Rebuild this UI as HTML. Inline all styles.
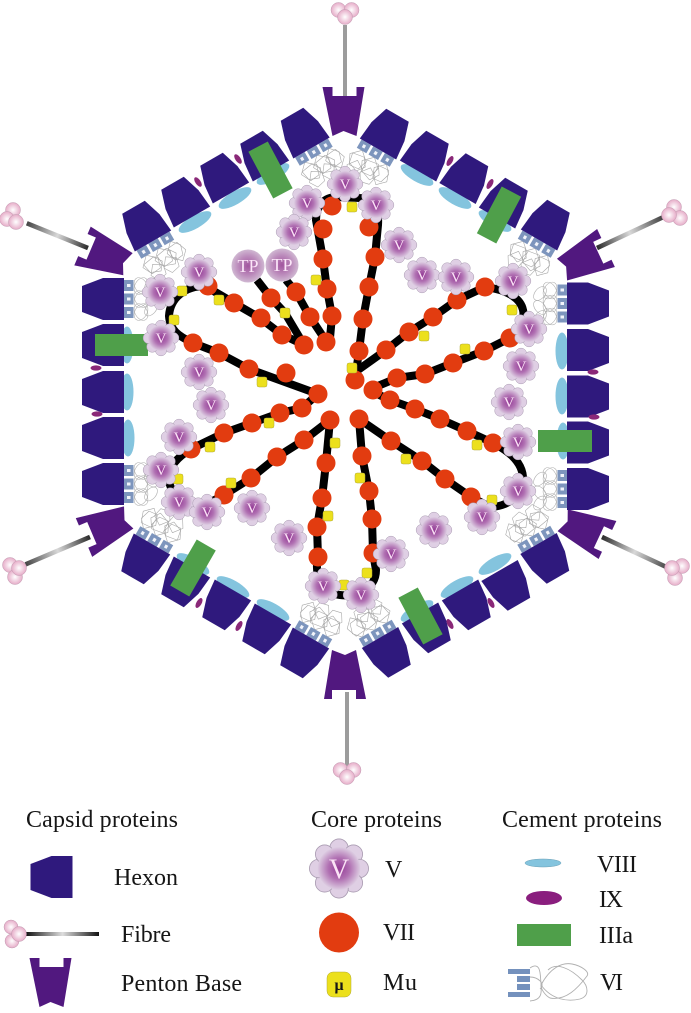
<!DOCTYPE html>
<html><head><meta charset="utf-8"><style>
html,body{margin:0;padding:0;background:#fff}
svg{display:block;filter:blur(.35px)}
text{font-family:"Liberation Serif",serif;fill:#161616}
.v{fill:#fbe3f6;font-size:15px;text-anchor:middle}
.r{fill:#e23c10}
.y{fill:#ece01c;stroke:#b0a83a;stroke-width:.5}
.l{fill:none;stroke:#000;stroke-width:8;stroke-linejoin:round}
</style></head><body>
<svg width="691" height="1013" viewBox="0 0 691 1013" xmlns="http://www.w3.org/2000/svg">
<defs>
<radialGradient id="fg"><stop offset="0" stop-color="#943c96"/><stop offset=".5" stop-color="#b070b2"/><stop offset="1" stop-color="#ddcde2"/></radialGradient>
<radialGradient id="tg"><stop offset="0" stop-color="#a2559f"/><stop offset=".6" stop-color="#bc8cbc"/><stop offset="1" stop-color="#d0b8d2"/></radialGradient>
<radialGradient id="pg"><stop offset="0" stop-color="#fff"/><stop offset="1" stop-color="#e6acc8"/></radialGradient>
<linearGradient id="sg" x1="0" y1="0" x2="0" y2="1"><stop offset="0" stop-color="#2a2a2a"/><stop offset=".5" stop-color="#d8d8d8"/><stop offset="1" stop-color="#444"/></linearGradient>
<linearGradient id="sh" x1="0" y1="0" x2="1" y2="0"><stop offset="0" stop-color="#111"/><stop offset=".5" stop-color="#ddd"/><stop offset="1" stop-color="#111"/></linearGradient>
<polygon id="hx" points="-21,0 21,0 21,-21 13,-42 -13,-42 -21,-21" fill="#2f197d"/>
<polygon id="hd" points="-21,0 21,0 19,-20 13,-39 -13,-39 -19,-20" fill="#2f197d"/>
<polygon id="pn" points="-21,0 -11,0 -11,9 13,9 13,0 21,0 13,49 0,44 -11,49" fill="#51187f"/>
<ellipse id="e8" rx="18.5" ry="6.5" fill="#84c4de"/>
<ellipse id="e9" rx="5.5" ry="2.6" fill="#8a2878"/>
<g id="tm"><circle cx="-6.5" cy="-3" r="7.5" fill="url(#pg)" stroke="#c09ab0" stroke-width=".5"/><circle cx="6.5" cy="-3" r="7.5" fill="url(#pg)" stroke="#c09ab0" stroke-width=".5"/><circle cx="0" cy="4" r="7.5" fill="url(#pg)" stroke="#c09ab0" stroke-width=".5"/></g>
<g id="sq">
<g fill="#7d95bd"><rect x="-19" y="0" width="11" height="9.5"/><rect x="-5.5" y="0" width="11" height="9.5"/><rect x="8" y="0" width="11" height="9.5"/></g>
<g fill="#f2f4fa"><rect x="-15" y="3" width="3" height="3.5"/><rect x="-1.5" y="3" width="3" height="3.5"/><rect x="12" y="3" width="3" height="3.5"/></g>
</g>
<g id="vi">
<g fill="none" stroke="#b0b0b0" stroke-width=".6">
<ellipse cx="-13" cy="17" rx="9" ry="6" transform="rotate(30 -13 17)"/><ellipse cx="-13" cy="17" rx="9" ry="6" transform="rotate(-30 -13 17)"/>
<ellipse cx="0" cy="17" rx="9" ry="6" transform="rotate(30 0 17)"/><ellipse cx="0" cy="17" rx="9" ry="6" transform="rotate(-30 0 17)"/>
<ellipse cx="13" cy="17" rx="9" ry="6" transform="rotate(30 13 17)"/><ellipse cx="13" cy="17" rx="9" ry="6" transform="rotate(-30 13 17)"/>
<ellipse cx="-10" cy="27" rx="8" ry="5" transform="rotate(40 -10 27)"/><ellipse cx="4" cy="27" rx="8" ry="5" transform="rotate(-40 4 27)"/><ellipse cx="14" cy="27" rx="8" ry="5" transform="rotate(40 14 27)"/>
</g>
<use href="#sq"/>
</g>
<g id="vd">
<g fill="none" stroke="#a8a8a8" stroke-width=".6" stroke-linejoin="round">
<polygon points="-13,9 -4,17 -7,27 -17,28 -22,18"/><polygon points="1,9 10,17 7,27 -3,28 -8,18"/><polygon points="15,9 22,17 19,27 10,28 6,18"/>
<polygon points="-12,20 -3,26 -5,35 -14,37 -19,29"/><polygon points="3,20 12,26 10,35 1,37 -4,29"/><polygon points="-20,16 -8,14 -2,22 -8,30 -18,26"/><polygon points="-4,15 8,13 14,22 8,31 -3,27"/><polygon points="9,14 20,13 24,24 16,32 9,25"/>
</g>
<use href="#sq"/>
</g>
<g id="fl">
<g fill="#dfcfe4" stroke="#a99bb1" stroke-width=".5">
<circle cx="0" cy="-12.3" r="5.6"/><circle cx="8.7" cy="-8.7" r="5.6"/><circle cx="12.3" cy="0" r="5.6"/><circle cx="8.7" cy="8.7" r="5.6"/><circle cx="0" cy="12.3" r="5.6"/><circle cx="-8.7" cy="8.7" r="5.6"/><circle cx="-12.3" cy="0" r="5.6"/><circle cx="-8.7" cy="-8.7" r="5.6"/>
</g>
<circle r="13" fill="url(#fg)"/>
</g>
</defs>

<!-- stems -->
<rect x="343" y="25" width="4" height="72" fill="#9c9c9c"/>
<rect x="345" y="692" width="4" height="75" fill="#9c9c9c"/>
<rect x="-2.3" y="0" width="4.6" height="66" fill="url(#sg)" transform="translate(88,248) rotate(112)"/>
<rect x="-2.3" y="0" width="4.6" height="70" fill="url(#sg)" transform="translate(90,537) rotate(67)"/>
<rect x="-2.3" y="0" width="4.6" height="72" fill="url(#sg)" transform="translate(597,248) rotate(-115)"/>
<rect x="-2.3" y="0" width="4.6" height="72" fill="url(#sg)" transform="translate(602,537) rotate(-65)"/>
<use href="#tm" x="345" y="13"/>
<use href="#tm" x="347" y="773"/>
<g fill="url(#pg)" stroke="#c09ab0" stroke-width=".5">
<circle cx="13" cy="210" r="7.5"/><circle cx="7" cy="219" r="7.5"/><circle cx="16" cy="222" r="7.5"/>
<circle cx="10" cy="565" r="7.5"/><circle cx="15" cy="577" r="7.5"/><circle cx="19" cy="568" r="7.5"/>
<circle cx="674" cy="207" r="7.5"/><circle cx="680" cy="218" r="7.5"/><circle cx="669" cy="215" r="7.5"/>
<circle cx="682" cy="566" r="7.5"/><circle cx="675" cy="578" r="7.5"/><circle cx="672" cy="568" r="7.5"/>
</g>

<!-- pentons -->
<use href="#pn" transform="translate(343.5,87)"/>
<use href="#pn" transform="translate(345,699) rotate(180)"/>
<use href="#pn" transform="translate(82.5,246) rotate(-67)"/>
<use href="#pn" transform="translate(84,537.5) rotate(-113)"/>
<use href="#pn" transform="translate(606,248) rotate(65)"/>
<use href="#pn" transform="translate(607.5,540) rotate(115)"/>

<!-- VIII -->
<g>
<use href="#e8" transform="translate(127,345) rotate(-90)"/><use href="#e8" transform="translate(127,392) rotate(-90)"/><use href="#e8" transform="translate(128,438) rotate(-90)"/>
<use href="#e8" transform="translate(562,351) rotate(90)"/><use href="#e8" transform="translate(562,396) rotate(90)"/><use href="#e8" transform="translate(563,441) rotate(90)"/>
<use href="#e8" transform="translate(195,222) rotate(-30)"/><use href="#e8" transform="translate(235,198) rotate(-30)"/><use href="#e8" transform="translate(273,174) rotate(-30)"/>
<use href="#e8" transform="translate(417,175) rotate(30)"/><use href="#e8" transform="translate(455,198) rotate(30)"/><use href="#e8" transform="translate(495,221) rotate(30)"/>
<use href="#e8" transform="translate(495,564) rotate(-30)"/><use href="#e8" transform="translate(457,587) rotate(-30)"/><use href="#e8" transform="translate(417,611) rotate(-30)"/>
<use href="#e8" transform="translate(193,564) rotate(30)"/><use href="#e8" transform="translate(233,587) rotate(30)"/><use href="#e8" transform="translate(273,610) rotate(30)"/>
</g>

<!-- VI complex -->
<use href="#vi" transform="translate(124,299) rotate(-90)"/><use href="#vi" transform="translate(124,484) rotate(-90)"/>
<use href="#vi" transform="translate(567,303.5) rotate(90)"/><use href="#vi" transform="translate(567,489) rotate(90)"/>
<use href="#vd" transform="translate(311.5,148) rotate(-30)"/><use href="#vd" transform="translate(153,241) rotate(-30)"/>
<use href="#vd" transform="translate(378,149) rotate(30)"/><use href="#vd" transform="translate(539,240) rotate(30)"/>
<use href="#vd" transform="translate(538.5,543.5) rotate(150)"/><use href="#vd" transform="translate(380,637.5) rotate(150)"/>
<use href="#vd" transform="translate(152,544) rotate(-150)"/><use href="#vd" transform="translate(311,638) rotate(-150)"/>

<!-- hexons -->
<use href="#hx" transform="translate(124,299) rotate(-90)"/><use href="#hx" transform="translate(124,345) rotate(-90)"/><use href="#hx" transform="translate(124,392) rotate(-90)"/><use href="#hx" transform="translate(124,438) rotate(-90)"/><use href="#hx" transform="translate(124,484) rotate(-90)"/>
<use href="#hx" transform="translate(567,303.5) rotate(90)"/><use href="#hx" transform="translate(567,350) rotate(90)"/><use href="#hx" transform="translate(567,396.5) rotate(90)"/><use href="#hx" transform="translate(567,442.5) rotate(90)"/><use href="#hx" transform="translate(567,489) rotate(90)"/>
<use href="#hd" transform="translate(311.5,148) rotate(-30)"/><use href="#hd" transform="translate(271,171) rotate(-30)"/><use href="#hd" transform="translate(231,193) rotate(-30)"/><use href="#hd" transform="translate(192,217) rotate(-30)"/><use href="#hd" transform="translate(153,241) rotate(-30)"/>
<use href="#hd" transform="translate(378,149) rotate(30)"/><use href="#hd" transform="translate(418,171) rotate(30)"/><use href="#hd" transform="translate(457.5,193.5) rotate(30)"/><use href="#hd" transform="translate(497,218) rotate(30)"/><use href="#hd" transform="translate(539,240) rotate(30)"/>
<use href="#hd" transform="translate(538.5,543.5) rotate(150)"/><use href="#hd" transform="translate(499.5,570.5) rotate(150)"/><use href="#hd" transform="translate(460,590) rotate(150)"/><use href="#hd" transform="translate(420,613) rotate(150)"/><use href="#hd" transform="translate(380,637.5) rotate(150)"/>
<use href="#hd" transform="translate(152,544) rotate(-150)"/><use href="#hd" transform="translate(192,567) rotate(-150)"/><use href="#hd" transform="translate(233,590) rotate(-150)"/><use href="#hd" transform="translate(273,614) rotate(-150)"/><use href="#hd" transform="translate(311,638) rotate(-150)"/>

<!-- IX -->
<use href="#e9" transform="translate(198,182) rotate(55)"/><use href="#e9" transform="translate(238,159) rotate(55)"/>
<use href="#e9" transform="translate(96,368)"/><use href="#e9" transform="translate(97,414)"/>
<use href="#e9" transform="translate(450,161) rotate(-60)"/><use href="#e9" transform="translate(490,184) rotate(-60)"/>
<use href="#e9" transform="translate(593,372)"/><use href="#e9" transform="translate(594,417)"/>
<use href="#e9" transform="translate(491,603) rotate(60)"/><use href="#e9" transform="translate(450,624) rotate(60)"/>
<use href="#e9" transform="translate(199,603) rotate(-60)"/><use href="#e9" transform="translate(239,626) rotate(-60)"/>

<!-- IIIa -->
<g fill="#4f9f4a">
<rect x="95" y="334" width="53" height="22"/>
<rect x="538" y="430" width="54" height="22"/>
<rect x="-26.5" y="-11" width="53" height="22" transform="translate(270.5,170) rotate(62)"/>
<rect x="-26.5" y="-11" width="53" height="22" transform="translate(499,215) rotate(-62)"/>
<rect x="-26.5" y="-11" width="53" height="22" transform="translate(420.5,616) rotate(62)"/>
<rect x="-26.5" y="-11" width="53" height="22" transform="translate(193,568) rotate(-60)"/>
</g>

<!-- core lines -->
<path class="l" d="M318,394 L249,369 L219,353 L193,343 C178,336 170,330 169,316 C170,298 185,286 205,286 L234,303 L260,318 L281,334 L304,345"/>
<path class="l" d="M318,394 L302,408 L280,413 L252,423 L224,433 L191,449 C176,458 165,470 170,485 C174,498 190,508 205,505 L224,495 L251,478 L277,457 L304,440 L330,420"/>
<path class="l" d="M330,420 L326,463 L322,498 L317,527 L318,557 C314,575 322,593 340,595 C355,597 376,590 376,570 L373,553 L372,519 L369,491 L362,456 L359,419"/>
<path class="l" d="M359,419 L391,441 L422,461 L445,479 L471,497 L490,507 C505,507 524,497 523,477 C522,465 513,453 493,443 L467,431 L440,419 L415,409 L390,400 L373,392"/>
<path class="l" d="M373,388 L397,378 L425,374 L453,363 L484,351 L510,338 C520,330 525,318 523,310 C521,300 510,290 485,287 L457,300 L433,317 L409,332 L386,350 L358,370"/>
<path class="l" d="M355,380 L359,351 L363,319 L369,287 L375,257 L378,225 C379,210 375,198 360,198 L337,197 C325,197 316,205 316,220 L323,259 L327,289 L332,316 L330,338"/>
<path class="l" d="M257,280 L271,298 L285,313 L304,345"/>
<path class="l" d="M286,280 L296,292 L310,317 L326,341"/>

<!-- VII beads -->
<g class="r">
<circle cx="318" cy="394" r="9.5"/><circle cx="286" cy="373" r="9.5"/><circle cx="249" cy="369" r="9.5"/><circle cx="219" cy="353" r="9.5"/><circle cx="193" cy="343" r="9.5"/><circle cx="208" cy="286" r="9.5"/><circle cx="234" cy="303" r="9.5"/><circle cx="261" cy="318" r="9.5"/><circle cx="282" cy="335" r="9.5"/><circle cx="304" cy="345" r="9.5"/>
<circle cx="302" cy="408" r="9.5"/><circle cx="280" cy="413" r="9.5"/><circle cx="252" cy="423" r="9.5"/><circle cx="224" cy="433" r="9.5"/><circle cx="191" cy="449" r="9.5"/><circle cx="224" cy="495" r="9.5"/><circle cx="251" cy="478" r="9.5"/><circle cx="277" cy="457" r="9.5"/><circle cx="304" cy="440" r="9.5"/><circle cx="330" cy="420" r="9.5"/>
<circle cx="326" cy="463" r="9.5"/><circle cx="322" cy="498" r="9.5"/><circle cx="317" cy="527" r="9.5"/><circle cx="318" cy="557" r="9.5"/><circle cx="373" cy="553" r="9.5"/><circle cx="372" cy="519" r="9.5"/><circle cx="369" cy="491" r="9.5"/><circle cx="362" cy="456" r="9.5"/><circle cx="359" cy="419" r="9.5"/>
<circle cx="391" cy="441" r="9.5"/><circle cx="422" cy="461" r="9.5"/><circle cx="445" cy="479" r="9.5"/><circle cx="471" cy="497" r="9.5"/><circle cx="493" cy="443" r="9.5"/><circle cx="467" cy="431" r="9.5"/><circle cx="440" cy="419" r="9.5"/><circle cx="415" cy="409" r="9.5"/><circle cx="390" cy="400" r="9.5"/><circle cx="373" cy="390" r="9.5"/>
<circle cx="397" cy="378" r="9.5"/><circle cx="425" cy="374" r="9.5"/><circle cx="453" cy="363" r="9.5"/><circle cx="484" cy="351" r="9.5"/><circle cx="510" cy="338" r="9.5"/><circle cx="485" cy="287" r="9.5"/><circle cx="457" cy="300" r="9.5"/><circle cx="433" cy="317" r="9.5"/><circle cx="409" cy="332" r="9.5"/><circle cx="386" cy="350" r="9.5"/>
<circle cx="355" cy="380" r="9.5"/><circle cx="359" cy="351" r="9.5"/><circle cx="363" cy="319" r="9.5"/><circle cx="369" cy="287" r="9.5"/><circle cx="375" cy="257" r="9.5"/><circle cx="369" cy="227" r="9.5"/><circle cx="332" cy="206" r="9.5"/><circle cx="323" cy="229" r="9.5"/><circle cx="323" cy="259" r="9.5"/><circle cx="327" cy="289" r="9.5"/><circle cx="332" cy="316" r="9.5"/><circle cx="326" cy="342" r="9.5"/>
<circle cx="271" cy="298" r="9.5"/><circle cx="296" cy="292" r="9.5"/><circle cx="310" cy="317" r="9.5"/>
</g>

<!-- Mu -->
<g class="y">
<rect x="177" y="286" width="10" height="10" rx="2"/><rect x="214" y="295" width="10" height="10" rx="2"/><rect x="169" y="315" width="10" height="10" rx="2"/><rect x="280" y="308" width="10" height="10" rx="2"/><rect x="311" y="275" width="10" height="10" rx="2"/><rect x="257" y="377" width="10" height="10" rx="2"/><rect x="264" y="418" width="10" height="10" rx="2"/><rect x="205" y="442" width="10" height="10" rx="2"/><rect x="173" y="474" width="10" height="10" rx="2"/><rect x="226" y="478" width="10" height="10" rx="2"/><rect x="330" y="438" width="10" height="10" rx="2"/><rect x="323" y="511" width="10" height="10" rx="2"/><rect x="347" y="363" width="10" height="10" rx="2"/>
<rect x="347" y="202" width="10" height="10" rx="2"/><rect x="419" y="331" width="10" height="10" rx="2"/><rect x="507" y="305" width="10" height="10" rx="2"/><rect x="460" y="344" width="10" height="10" rx="2"/><rect x="401" y="454" width="10" height="10" rx="2"/><rect x="355" y="473" width="10" height="10" rx="2"/><rect x="339" y="580" width="10" height="10" rx="2"/><rect x="362" y="568" width="10" height="10" rx="2"/><rect x="472" y="440" width="10" height="10" rx="2"/><rect x="487" y="495" width="10" height="10" rx="2"/>
</g>

<!-- TP -->
<circle cx="248" cy="266" r="16.5" fill="url(#tg)"/><circle cx="282" cy="265" r="16.5" fill="url(#tg)"/>
<text x="248" y="272" text-anchor="middle" font-size="18" style="fill:#fbe6f8">TP</text>
<text x="282" y="271" text-anchor="middle" font-size="18" style="fill:#fbe6f8">TP</text>

<!-- V flowers -->
<use href="#fl" x="345" y="184"/><text class="v" x="345" y="189">V</text>
<use href="#fl" x="307" y="203"/><text class="v" x="307" y="208">V</text>
<use href="#fl" x="294" y="232"/><text class="v" x="294" y="237">V</text>
<use href="#fl" x="376" y="205"/><text class="v" x="376" y="210">V</text>
<use href="#fl" x="399" y="245"/><text class="v" x="399" y="250">V</text>
<use href="#fl" x="199" y="272"/><text class="v" x="199" y="277">V</text>
<use href="#fl" x="160" y="292"/><text class="v" x="160" y="297">V</text>
<use href="#fl" x="161" y="338"/><text class="v" x="161" y="343">V</text>
<use href="#fl" x="199" y="372"/><text class="v" x="199" y="377">V</text>
<use href="#fl" x="211" y="405"/><text class="v" x="211" y="410">V</text>
<use href="#fl" x="179" y="437"/><text class="v" x="179" y="442">V</text>
<use href="#fl" x="161" y="470"/><text class="v" x="161" y="475">V</text>
<use href="#fl" x="179" y="502"/><text class="v" x="179" y="507">V</text>
<use href="#fl" x="207" y="512"/><text class="v" x="207" y="517">V</text>
<use href="#fl" x="252" y="508"/><text class="v" x="252" y="513">V</text>
<use href="#fl" x="289" y="538"/><text class="v" x="289" y="543">V</text>
<use href="#fl" x="422" y="275"/><text class="v" x="422" y="280">V</text>
<use href="#fl" x="456" y="277"/><text class="v" x="456" y="282">V</text>
<use href="#fl" x="513" y="281"/><text class="v" x="513" y="286">V</text>
<use href="#fl" x="529" y="329"/><text class="v" x="529" y="334">V</text>
<use href="#fl" x="521" y="366"/><text class="v" x="521" y="371">V</text>
<use href="#fl" x="509" y="402"/><text class="v" x="509" y="407">V</text>
<use href="#fl" x="518" y="442"/><text class="v" x="518" y="447">V</text>
<use href="#fl" x="518" y="491"/><text class="v" x="518" y="496">V</text>
<use href="#fl" x="482" y="517"/><text class="v" x="482" y="522">V</text>
<use href="#fl" x="434" y="530"/><text class="v" x="434" y="535">V</text>
<use href="#fl" x="391" y="554"/><text class="v" x="391" y="559">V</text>
<use href="#fl" x="323" y="586"/><text class="v" x="323" y="591">V</text>
<use href="#fl" x="361" y="595"/><text class="v" x="361" y="600">V</text>

<!-- Legend -->
<g font-size="24">
<text x="26" y="827" textLength="152" lengthAdjust="spacing">Capsid proteins</text>
<text x="311" y="827" textLength="131" lengthAdjust="spacing">Core proteins</text>
<text x="502" y="827" textLength="160" lengthAdjust="spacing">Cement proteins</text>
<text x="114" y="885" textLength="64" lengthAdjust="spacing">Hexon</text>
<text x="121" y="942" textLength="50" lengthAdjust="spacing">Fibre</text>
<text x="121" y="991" textLength="121" lengthAdjust="spacing">Penton Base</text>
<text x="385" y="877">V</text>
<text x="383" y="940" textLength="32" lengthAdjust="spacing">VII</text>
<text x="383" y="990" textLength="34" lengthAdjust="spacing">Mu</text>
<text x="597" y="872" textLength="40" lengthAdjust="spacing">VIII</text>
<text x="599" y="907" textLength="24" lengthAdjust="spacing">IX</text>
<text x="599" y="943" textLength="34" lengthAdjust="spacing">IIIa</text>
<text x="600" y="990" textLength="23" lengthAdjust="spacing">VI</text>
</g>
<use href="#hx" transform="translate(72.5,877) rotate(-90)"/>
<rect x="26" y="932" width="73" height="4" fill="url(#sh)"/>
<g fill="url(#pg)" stroke="#c09ab0" stroke-width=".5"><circle cx="11" cy="927" r="7"/><circle cx="12" cy="941" r="7"/><circle cx="19" cy="934" r="7.5"/></g>
<use href="#pn" transform="translate(50.5,958)"/>
<g transform="translate(339,868.5) scale(1.65)"><use href="#fl"/><text class="v" x="0" y="6" style="font-size:17px">V</text></g>
<circle cx="339" cy="932.5" r="20" class="r"/>
<rect x="327" y="972" width="24" height="25" rx="6" class="y"/>
<text x="339" y="990" text-anchor="middle" font-size="16" font-weight="bold">μ</text>
<ellipse cx="543" cy="863" rx="18" ry="4" fill="#84c4de" stroke="#6a9fb5" stroke-width=".5"/>
<ellipse cx="544" cy="898" rx="18" ry="7" fill="#8a1e7e"/>
<rect x="517" y="924" width="54" height="22" fill="#4f9f4a"/>
<g fill="none" stroke="#b0b0b0" stroke-width=".9">
<path d="M530,968 C542,960 540,978 541,983 C541,990 544,1000 530,1001"/>
<path d="M530,977 C538,977 546,984 540,989"/>
<path d="M541,985 C550,968 562,962 572,964 C582,966 590,972 587,976 C578,988 566,1001 550,998 C546,996 541,990 541,985"/>
<path d="M541,985 C552,1000 568,1002 580,999 C590,996 588,986 582,980 C570,968 556,962 548,970"/>
</g>
<g fill="#7491bd">
<rect x="508" y="969" width="22" height="5"/><rect x="517" y="976" width="13" height="6"/><rect x="517" y="984" width="13" height="6"/><rect x="508" y="992" width="22" height="5"/>
</g>
</svg>
</body></html>
